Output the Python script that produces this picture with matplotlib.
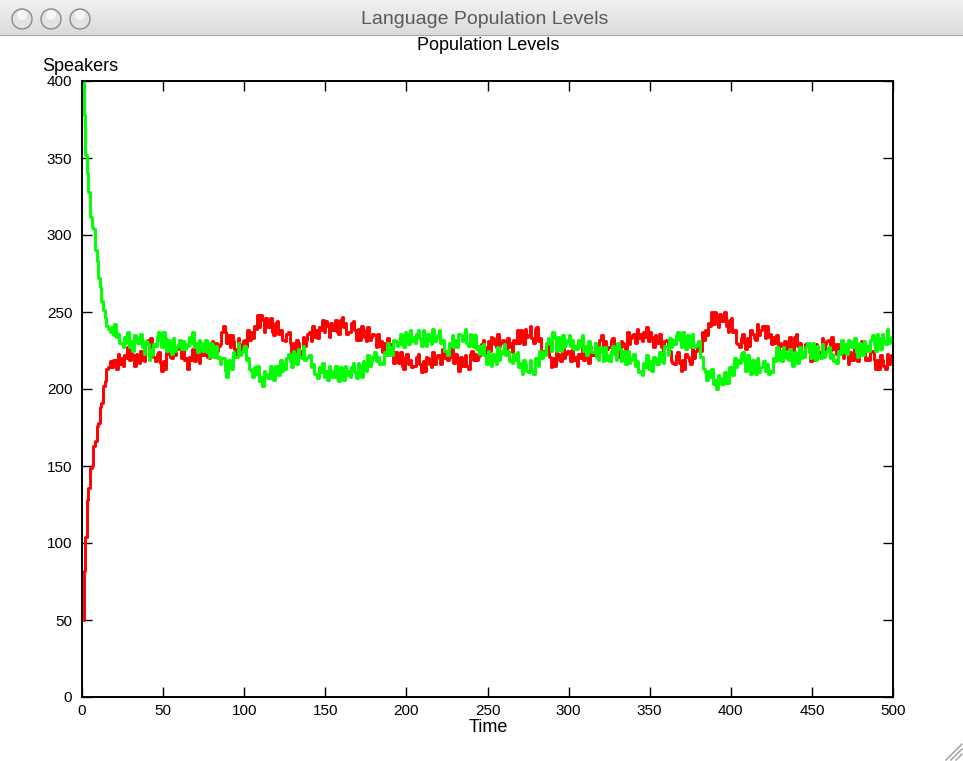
import numpy as np
import matplotlib
matplotlib.use("Agg")
import matplotlib.pyplot as plt
from matplotlib.patches import Circle

plt.rcParams['font.family'] = ['Liberation Sans', 'DejaVu Sans']

# ---------------- data (speakers per language over time, t = 0..500) ----------------
red_speakers = [
    50, 82, 104, 128, 136, 149, 150, 163, 166, 176, 178, 188, 191, 202, 205, 213, 214, 218, 214, 219,
    219, 213, 223, 216, 220, 215, 222, 220, 227, 219,
    226, 222, 215, 223, 218, 217, 225, 219, 218, 229,
    232, 228, 233, 224, 221, 218, 223, 224, 217, 212,
    218, 213, 224, 223, 221, 220, 230, 222, 226, 228,
    228, 220, 227, 219, 220, 213, 221, 219, 226, 218,
    226, 223, 217, 226, 222, 222, 229, 221, 220, 229,
    231, 225, 230, 225, 228, 229, 237, 241, 237, 230,
    235, 227, 235, 231, 226, 222, 233, 225, 229, 231,
    232, 227, 238, 232, 237, 233, 241, 239, 248, 240,
    248, 245, 237, 246, 240, 240, 246, 237, 235, 243,
    244, 236, 238, 232, 232, 231, 236, 237, 230, 224,
    230, 224, 232, 230, 225, 223, 234, 228, 232, 236,
    237, 231, 241, 234, 238, 233, 240, 238, 245, 237,
    244, 241, 234, 243, 238, 238, 245, 237, 236, 245,
    247, 240, 243, 236, 237, 237, 243, 244, 238, 232,
    239, 232, 241, 238, 234, 231, 240, 232, 234, 236,
    235, 227, 236, 228, 231, 224, 230, 226, 233, 223,
    229, 225, 217, 224, 218, 217, 224, 215, 213, 221,
    223, 216, 219, 214, 215, 215, 221, 223, 216, 211,
    218, 212, 221, 220, 216, 214, 224, 216, 220, 222,
    222, 216, 226, 220, 224, 219, 225, 221, 227, 217,
    223, 220, 212, 221, 215, 215, 222, 215, 213, 223,
    225, 219, 223, 219, 221, 222, 229, 232, 227, 223,
    231, 225, 234, 233, 229, 227, 236, 228, 230, 232,
    231, 224, 233, 227, 230, 224, 232, 230, 238, 230,
    238, 236, 229, 239, 234, 235, 241, 233, 230, 239,
    240, 231, 233, 225, 225, 223, 228, 228, 221, 214,
    220, 215, 224, 223, 219, 218, 228, 220, 223, 225,
    225, 218, 226, 219, 221, 215, 223, 220, 228, 219,
    227, 224, 217, 227, 222, 222, 230, 223, 222, 232,
    235, 228, 231, 226, 227, 227, 232, 233, 226, 220,
    226, 221, 231, 230, 227, 226, 237, 229, 233, 235,
    236, 230, 239, 233, 236, 231, 237, 234, 240, 231,
    237, 234, 227, 235, 230, 230, 236, 227, 223, 231,
    232, 224, 225, 218, 217, 216, 222, 224, 217, 212,
    219, 213, 223, 221, 218, 216, 227, 220, 225, 228,
    229, 225, 237, 232, 238, 235, 243, 241, 250, 242,
    250, 247, 240, 249, 244, 244, 250, 241, 237, 245,
    246, 237, 238, 230, 229, 227, 233, 236, 230, 226,
    233, 228, 238, 236, 233, 232, 242, 235, 238, 241,
    241, 233, 241, 234, 236, 229, 234, 230, 235, 225,
    230, 228, 221, 231, 226, 227, 234, 226, 225, 234,
    236, 228, 230, 224, 224, 223, 229, 230, 224, 218,
    225, 219, 229, 227, 224, 222, 233, 225, 229, 231,
    232, 225, 234, 226, 229, 223, 229, 225, 230, 220,
    226, 223, 216, 224, 219, 219, 227, 220, 218, 228,
    231, 223, 226, 219, 220, 219, 224, 225, 219, 213,
    219, 213, 222, 219, 215, 213, 223, 216, 219, 222,
    216,
]

green_speakers = [
    400, 378, 352, 340, 328, 312, 305, 304, 290, 283, 272, 266, 257, 251, 246, 241, 239, 237, 240, 235,
    242, 234, 236, 230, 230, 227, 234, 230, 237, 227,
    231, 225, 235, 233, 230, 230, 236, 227, 223, 231,
    229, 219, 226, 222, 229, 228, 234, 237, 231, 227,
    237, 233, 225, 232, 226, 223, 233, 225, 227, 229,
    232, 226, 231, 226, 229, 228, 234, 230, 237, 227,
    230, 224, 232, 230, 225, 225, 232, 224, 221, 230,
    229, 221, 228, 220, 221, 216, 220, 220, 212, 208,
    219, 218, 213, 224, 221, 221, 230, 222, 224, 226,
    228, 219, 220, 213, 212, 208, 214, 210, 215, 205,
    208, 202, 212, 210, 207, 207, 215, 207, 206, 215,
    215, 209, 219, 212, 216, 213, 220, 223, 218, 214,
    225, 223, 216, 226, 221, 220, 228, 219, 220, 221,
    222, 214, 216, 210, 210, 207, 214, 211, 217, 208,
    212, 206, 215, 212, 208, 208, 215, 207, 205, 214,
    213, 206, 215, 209, 212, 208, 214, 217, 211, 207,
    217, 215, 208, 218, 213, 212, 222, 215, 218, 221,
    224, 218, 221, 216, 217, 216, 224, 222, 230, 222,
    227, 222, 232, 231, 228, 229, 236, 229, 227, 237,
    236, 229, 238, 231, 234, 230, 236, 238, 233, 228,
    238, 235, 228, 236, 231, 229, 239, 231, 233, 235,
    238, 230, 232, 225, 225, 222, 230, 228, 235, 227,
    232, 227, 236, 235, 231, 232, 239, 230, 228, 236,
    235, 227, 235, 226, 228, 223, 228, 229, 222, 216,
    225, 222, 215, 223, 218, 216, 227, 219, 223, 225,
    229, 222, 225, 218, 219, 217, 223, 219, 224, 214,
    217, 210, 219, 216, 212, 211, 219, 212, 210, 220,
    220, 215, 225, 220, 224, 222, 230, 233, 229, 225,
    237, 233, 225, 234, 228, 225, 235, 227, 230, 232,
    235, 228, 232, 226, 228, 226, 232, 228, 235, 225,
    228, 222, 231, 228, 224, 224, 230, 221, 219, 227,
    225, 218, 227, 219, 222, 218, 225, 228, 223, 219,
    230, 226, 218, 225, 219, 216, 225, 217, 219, 221,
    223, 215, 218, 211, 212, 209, 217, 214, 222, 213,
    218, 212, 221, 220, 216, 216, 224, 218, 217, 228,
    228, 222, 233, 227, 232, 229, 235, 237, 232, 227,
    237, 234, 226, 235, 229, 227, 236, 227, 228, 229,
    231, 221, 221, 213, 211, 206, 212, 208, 213, 203,
    206, 200, 209, 207, 203, 203, 211, 204, 204, 214,
    214, 209, 220, 214, 219, 217, 223, 224, 218, 212,
    222, 218, 210, 219, 213, 210, 220, 211, 214, 215,
    218, 212, 216, 210, 212, 211, 220, 218, 227, 219,
    225, 218, 227, 224, 220, 219, 226, 218, 215, 224,
    223, 217, 227, 220, 224, 221, 227, 230, 224, 220,
    230, 227, 219, 228, 222, 220, 229, 221, 223, 225,
    227, 220, 223, 218, 219, 217, 225, 223, 232, 224,
    229, 223, 232, 231, 227, 227, 233, 224, 221, 230,
    228, 222, 231, 225, 228, 225, 232, 235, 229, 225,
    236, 233, 226, 236, 231, 229, 239, 230, 233, 234,
    233,
]

time_steps = np.arange(len(red_speakers))
x_ticks = [0, 50, 100, 150, 200, 250, 300, 350, 400, 450, 500]
y_ticks = [0, 50, 100, 150, 200, 250, 300, 350, 400]

window_title = "Language Population Levels"
chart_title = "Population Levels"
y_label = "Speakers"
x_label = "Time"

# ---------------- figure ----------------
W, H = 963, 761
fig = plt.figure(figsize=(W / 100, H / 100), dpi=100)
fig.patch.set_facecolor('white')

ax = fig.add_axes([82 / W, 1 - 697 / H, 811 / W, 616 / H])
ax.plot(time_steps, red_speakers, color='#ff0000', lw=2.1, drawstyle='steps-post')
ax.plot(time_steps, green_speakers, color='#00ff00', lw=2.1, drawstyle='steps-post')
ax.set_xlim(0, 500)
ax.set_ylim(0, 400)
ax.set_xticks(x_ticks)
ax.set_yticks(y_ticks)
ax.tick_params(direction='in', length=7, width=1, top=True, right=True,
               labelsize=11, colors='black')
ax.tick_params(axis='x', pad=5)
ax.tick_params(axis='y', pad=7)
for s in ax.spines.values():
    s.set_linewidth(1.4)
    s.set_color('black')

fig.text(488 / W, 1 - 50 / H, chart_title, ha='center', va='baseline', fontsize=13, zorder=1)
fig.text(42 / W, 1 - 71 / H, y_label, ha='left', va='baseline', fontsize=13)
fig.text(488 / W, 1 - 728 / H, x_label, ha='center', va='center', fontsize=13)

# ---------------- window chrome ----------------
bar = fig.add_axes([0, 1 - 36 / H, 1, 36 / H])
bar.set_zorder(10)
bar.set_xlim(0, W)
bar.set_ylim(36, 0)
bar.axis('off')
grad = np.linspace(0.95, 0.86, 36)
stripes = np.where(np.arange(36) % 2 == 0, 0.0, -0.015)
img = np.tile((grad + stripes)[:, None], (1, 4))
bar.imshow(img, cmap='gray', vmin=0, vmax=1, extent=[0, W, 36, 0], aspect='auto',
           interpolation='nearest')
bar.axhline(35.5, color='#9a9a9a', lw=1.2)
for cx in (22, 51, 80):
    bar.add_patch(Circle((cx, 19), 10, facecolor='#e2e2e2', edgecolor='#8a8a8a', lw=1.0))
    bar.add_patch(Circle((cx, 15), 5, facecolor='#f7f7f7', edgecolor='none'))
bar.text(485, 19, window_title, ha='center', va='center', color='#5a5a5a', fontsize=14)

grip = fig.add_axes([940 / W, 0, 23 / W, 23 / H])
grip.set_xlim(0, 23)
grip.set_ylim(0, 23)
grip.axis('off')
for k in (6, 11, 16):
    grip.plot([k, 22], [1, 22 - k + 1], color='#9a9a9a', lw=1)

fig.savefig('out.png', dpi=100, facecolor='white')
